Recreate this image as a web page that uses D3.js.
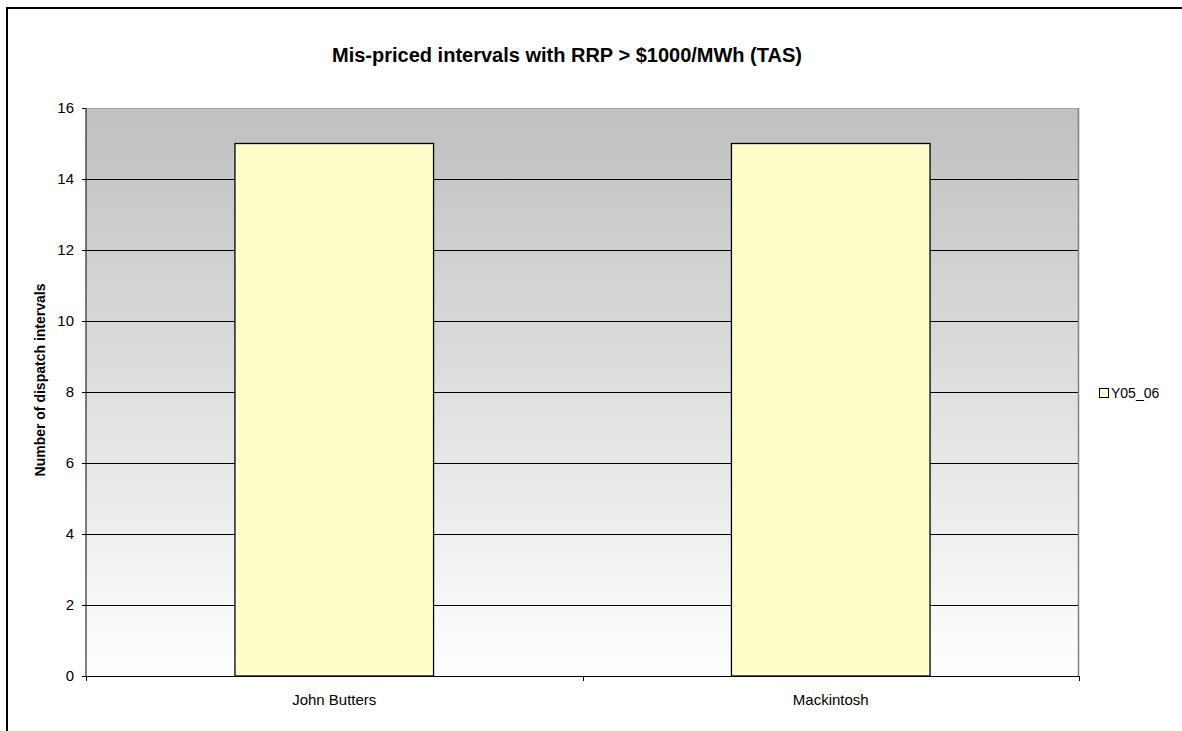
<!DOCTYPE html>
<html>
<head>
<meta charset="utf-8">
<script src="https://cdn.jsdelivr.net/npm/d3@7"></script>
<style>
  html, body { margin: 0; background: #fff; overflow: hidden; }
  svg { display: block; }
  text { font-family: "Liberation Sans", Arial, sans-serif; fill: #000; }
</style>
</head>
<body>
<div id="chart"></div>
<script>
//chart values
var categories = ["John Butters", "Mackintosh"];
var seriesName = "Y05_06";
var seriesValues = [15, 15];
var yTicks = [0, 2, 4, 6, 8, 10, 12, 14, 16];

//svg size
var svgW = 1182;
var svgH = 731;

//plot area borders
var plot = { left: 86, top: 108, right: 1079, bottom: 676 };

var svg = d3.select("#chart").append("svg")
    .attr("width", svgW)
    .attr("height", svgH);

//outer chart frame: only top and left edges fall inside the picture
svg.append("path")
    .attr("d", `M7,${svgH}V8H${svgW}`)
    .attr("fill", "none")
    .attr("stroke", "#000")
    .attr("stroke-width", 2);

//gradient for plot background
var defs = svg.append("defs");
var grad = defs.append("linearGradient")
    .attr("id", "bg")
    .attr("x1", 0).attr("y1", 0)
    .attr("x2", 0).attr("y2", 1);
grad.append("stop").attr("offset", "0%").attr("stop-color", "#c0c0c0");
grad.append("stop").attr("offset", "100%").attr("stop-color", "#ffffff");

//scales
var x = d3.scaleBand()
    .domain(categories)
    .range([plot.left, plot.right])
    .paddingInner(0.6)
    .paddingOuter(0.3);

var y = d3.scaleLinear()
    .domain([0, 16])
    .range([plot.bottom, plot.top]);

//plot background
svg.append("rect")
    .attr("x", plot.left)
    .attr("y", plot.top)
    .attr("width", plot.right - plot.left)
    .attr("height", plot.bottom - plot.top)
    .attr("fill", "url(#bg)");

//gridlines
svg.append("g")
    .selectAll("line")
    .data(yTicks.slice(1))
    .enter()
    .append("line")
    .attr("x1", plot.left)
    .attr("x2", plot.right)
    .attr("y1", d => Math.round(y(d)) + 0.5)
    .attr("y2", d => Math.round(y(d)) + 0.5)
    .attr("stroke", d => d === 16 ? "#a0a0a0" : "#000")
    .attr("stroke-width", 1);

//right plot border
svg.append("line")
    .attr("x1", plot.right - 0.5).attr("x2", plot.right - 0.5)
    .attr("y1", plot.top).attr("y2", plot.bottom)
    .attr("stroke", "#808080")
    .attr("stroke-width", 1.5);

//bars
svg.append("g")
    .selectAll("rect")
    .data(seriesValues)
    .enter()
    .append("rect")
    .attr("x", (d, i) => x(categories[i]))
    .attr("y", d => y(d))
    .attr("width", x.bandwidth())
    .attr("height", d => y(0) - y(d))
    .attr("fill", "#ffffcc")
    .attr("stroke", "#000")
    .attr("stroke-width", 1.3);

//y axis
var leftAxis = d3.axisLeft(y)
    .tickValues(yTicks)
    .tickSize(4)
    .tickPadding(8)
    .tickFormat(d3.format("d"));

var yAxis = svg.append("g")
    .attr("transform", `translate(${plot.left}, 0)`)
    .call(leftAxis);
yAxis.select(".domain").attr("stroke", "#000").attr("d", `M0,${plot.top}V${plot.bottom}`);
yAxis.selectAll("text").attr("font-size", "15px").attr("font-family", "Liberation Sans, Arial, sans-serif");

//x axis: category boundary ticks
var xAxisG = svg.append("g");
xAxisG.append("line")
    .attr("x1", plot.left).attr("x2", plot.right)
    .attr("y1", plot.bottom + 0.5).attr("y2", plot.bottom + 0.5)
    .attr("stroke", "#000");
var step = x.step();
var bounds = d3.range(categories.length + 1).map(i => x(categories[0]) - x.paddingOuter() * step + i * step);
xAxisG.selectAll(".bt")
    .data(bounds)
    .enter()
    .append("line")
    .attr("x1", d => Math.round(d) + 0.5)
    .attr("x2", d => Math.round(d) + 0.5)
    .attr("y1", plot.bottom)
    .attr("y2", plot.bottom + 5)
    .attr("stroke", "#000");
xAxisG.selectAll(".cl")
    .data(categories)
    .enter()
    .append("text")
    .attr("x", d => x(d) + x.bandwidth() / 2)
    .attr("y", 705)
    .attr("text-anchor", "middle")
    .attr("font-size", "15px")
    .text(d => d);

//title
svg.append("text")
    .attr("x", 567)
    .attr("y", 62)
    .attr("text-anchor", "middle")
    .attr("font-size", "20px")
    .attr("font-weight", "bold")
    .text("Mis-priced intervals with RRP > $1000/MWh (TAS)");

//y axis label
svg.append("text")
    .attr("transform", `translate(45, ${(plot.top + plot.bottom) / 2 - 12}) rotate(-90)`)
    .attr("text-anchor", "middle")
    .attr("font-size", "14px")
    .attr("font-weight", "bold")
    .text("Number of dispatch intervals");

//legend
var legend = svg.append("g").attr("transform", "translate(1099, 388)");
legend.append("rect")
    .attr("x", 0.5).attr("y", 0.5)
    .attr("width", 9).attr("height", 9)
    .attr("fill", "#ffffcc")
    .attr("stroke", "#000");
legend.append("text")
    .attr("x", 12)
    .attr("y", 10)
    .attr("font-size", "14px")
    .text(seriesName);
</script>
</body>
</html>
